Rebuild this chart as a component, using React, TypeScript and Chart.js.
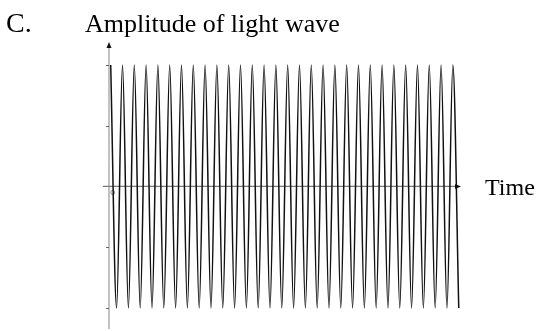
import React, { useEffect, useRef } from "react";
import { Chart, registerables } from "chart.js";

Chart.register(...registerables);

// Time in wave periods at each crest / trough
const timeValues = [
  0, 0.5, 1, 1.5, 2, 2.5, 3, 3.5, 4, 4.5, 5, 5.5, 6, 6.5, 7, 7.5, 8, 8.5, 9, 9.5,
  10, 10.5, 11, 11.5, 12, 12.5, 13, 13.5, 14, 14.5, 15, 15.5, 16, 16.5, 17, 17.5, 18, 18.5, 19, 19.5,
  20, 20.5, 21, 21.5, 22, 22.5, 23, 23.5, 24, 24.5, 25, 25.5, 26, 26.5, 27, 27.5, 28, 28.5, 29, 29.5,
];

// Amplitude at each crest (+1) / trough (-1)
const amplitudeValues = [
  1, -1, 1, -1, 1, -1, 1, -1, 1, -1, 1, -1, 1, -1, 1, -1, 1, -1, 1, -1,
  1, -1, 1, -1, 1, -1, 1, -1, 1, -1, 1, -1, 1, -1, 1, -1, 1, -1, 1, -1,
  1, -1, 1, -1, 1, -1, 1, -1, 1, -1, 1, -1, 1, -1, 1, -1, 1, -1, 1, -1,
];

const yTickValues = [1, 0.5, -0.5, -1];

const labelLetter = "C.";
const labelY = "Amplitude of light wave";
const labelX = "Time";
const labelOrigin = "o";

const axesPlugin = {
  id: "customAxes",
  beforeDatasetsDraw(chart: any) {
    const { ctx, chartArea, scales } = chart;
    const ys = scales.y;
    const x0 = chartArea.left;
    const y0 = ys.getPixelForValue(0);
    ctx.save();
    // vertical axis
    ctx.strokeStyle = "#9a9a9a";
    ctx.lineWidth = 1.2;
    ctx.beginPath();
    ctx.moveTo(x0, chartArea.top + 3);
    ctx.lineTo(x0, chartArea.bottom);
    ctx.stroke();
    // y ticks
    ctx.strokeStyle = "#666";
    ctx.lineWidth = 1;
    yTickValues.forEach((v) => {
      const py = Math.round(ys.getPixelForValue(v)) + 0.5;
      ctx.beginPath();
      ctx.moveTo(x0 - 3, py);
      ctx.lineTo(x0, py);
      ctx.stroke();
    });
    // horizontal axis
    ctx.strokeStyle = "#7a7a7a";
    ctx.lineWidth = 1.2;
    ctx.beginPath();
    ctx.moveTo(x0 - 6, y0);
    ctx.lineTo(chartArea.right - 3, y0);
    ctx.stroke();
    // arrowheads
    ctx.fillStyle = "#111";
    ctx.beginPath();
    ctx.moveTo(x0, chartArea.top);
    ctx.lineTo(x0 - 2.5, chartArea.top + 6);
    ctx.lineTo(x0 + 2.5, chartArea.top + 6);
    ctx.closePath();
    ctx.fill();
    ctx.beginPath();
    ctx.moveTo(chartArea.right, y0);
    ctx.lineTo(chartArea.right - 6, y0 - 2.5);
    ctx.lineTo(chartArea.right - 6, y0 + 2.5);
    ctx.closePath();
    ctx.fill();
    // origin mark
    ctx.fillStyle = "#888";
    ctx.font = "9px 'DejaVu Sans', sans-serif";
    ctx.textBaseline = "alphabetic";
    ctx.fillText(labelOrigin, x0 + 1, y0 + 9);
    ctx.restore();
  },
  afterDraw(chart: any) {
    const { ctx, chartArea, scales } = chart;
    const y0 = scales.y.getPixelForValue(0);
    ctx.save();
    ctx.fillStyle = "#000";
    ctx.textBaseline = "alphabetic";
    ctx.textAlign = "left";
    ctx.font = "28px 'Liberation Serif', 'Times New Roman', serif";
    ctx.fillText(labelLetter, 6, 32);
    ctx.font = "26px 'Liberation Serif', 'Times New Roman', serif";
    ctx.fillText(labelY, 85, 32);
    ctx.font = "24px 'Liberation Serif', 'Times New Roman', serif";
    ctx.fillText(labelX, chartArea.right + 24, y0 + 9);
    ctx.restore();
  },
};

export default function App() {
  const canvasRef = useRef<HTMLCanvasElement | null>(null);

  useEffect(() => {
    document.body.style.margin = "0";
    const canvas = canvasRef.current;
    if (!canvas) return;
    const chart = new Chart(canvas, {
      type: "line",
      data: {
        datasets: [
          {
            data: timeValues.map((t, i) => ({ x: t, y: amplitudeValues[i] })),
            borderColor: "#111",
            borderWidth: 1.5,
            pointRadius: 0,
            cubicInterpolationMode: "monotone",
            fill: false,
          },
        ],
      },
      options: {
        animation: false,
        responsive: false,
        maintainAspectRatio: false,
        devicePixelRatio: 1,
        layout: { padding: { left: 109, right: 80, top: 42, bottom: 2 } },
        plugins: {
          legend: { display: false },
          tooltip: { enabled: false },
          title: { display: false },
        },
        scales: {
          x: { type: "linear", display: false, min: -0.144, max: 29.69 },
          y: { type: "linear", display: false, min: -1.173, max: 1.189 },
        },
      },
      plugins: [axesPlugin],
    });
    return () => chart.destroy();
  }, []);

  return (
    <div style={{ width: 541, height: 331, background: "#fff" }}>
      <canvas ref={canvasRef} width={541} height={331} style={{ display: "block" }} />
    </div>
  );
}
